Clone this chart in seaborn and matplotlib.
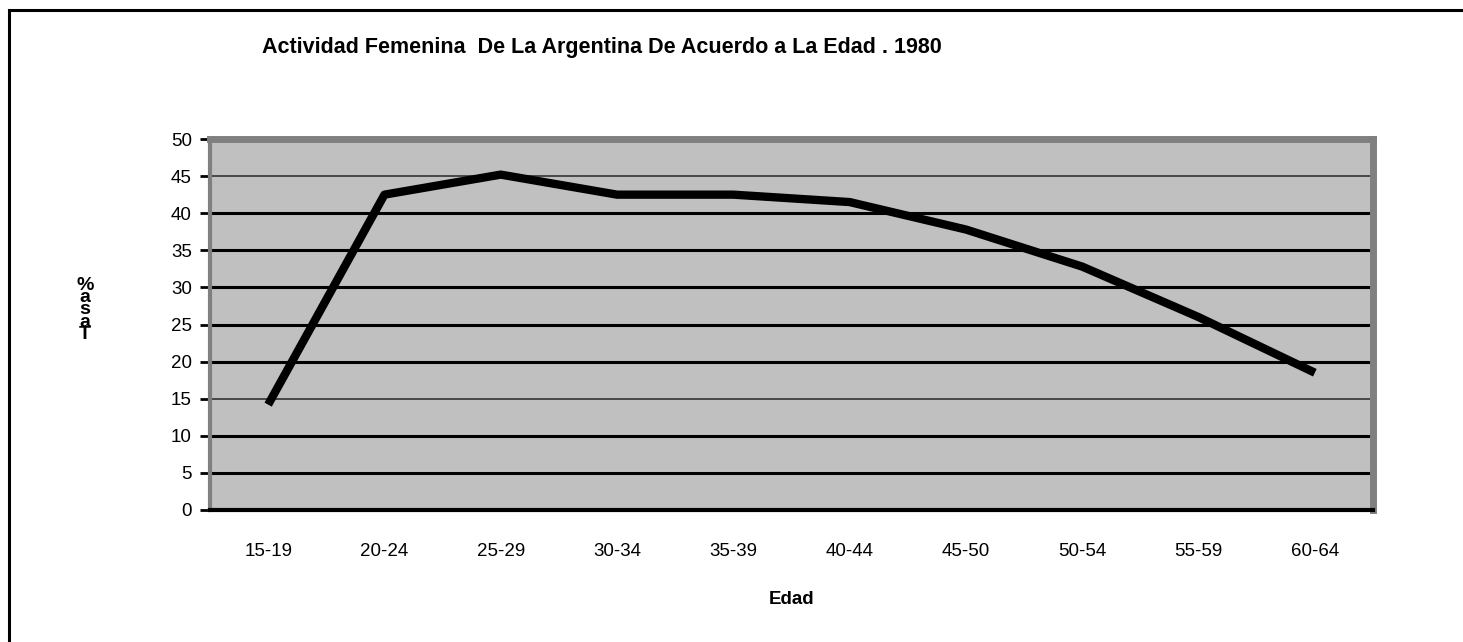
import matplotlib
matplotlib.use("Agg")
import matplotlib.pyplot as plt
import seaborn as sns
import pandas as pd
from matplotlib.patches import Rectangle

# data
edades = ["15-19", "20-24", "25-29", "30-34", "35-39",
          "40-44", "45-50", "50-54", "55-59", "60-64"]
tasa = [14.2, 42.5, 45.2, 42.5, 42.5, 41.5, 37.8, 32.8, 26.0, 18.5]
y_ticks = [0, 5, 10, 15, 20, 25, 30, 35, 40, 45, 50]

titulo = "Actividad Femenina  De La Argentina De Acuerdo a La Edad . 1980"

sns.set_style("white")
plt.rcParams['font.family'] = ['Liberation Sans', 'DejaVu Sans']
plt.rcParams.update({"text.color": "black", "axes.labelcolor": "black",
                     "xtick.color": "black", "ytick.color": "black"})

df = pd.DataFrame({"Edad": edades, "Tasa": tasa})

fig = plt.figure(figsize=(14.63, 6.42), dpi=100)
ax = fig.add_axes([210 / 1463, 1 - 510 / 642, 1163 / 1463, 371 / 642])
ax.set_facecolor("#C0C0C0")

# frame around the whole figure (only top and left edges fall inside)
top = 1 - 10 / 642
fig.patches.append(Rectangle((9 / 1463, -0.05), 1.1, top + 0.05,
                             transform=fig.transFigure, fill=False,
                             edgecolor="black", linewidth=2.2, zorder=0))

sns.lineplot(data=df, x="Edad", y="Tasa", ax=ax, color="black",
             linewidth=6, sort=False, solid_capstyle="butt", zorder=3)

ax.set_xlim(-0.5, len(edades) - 0.5)
ax.set_ylim(0, 50)
ax.set_yticks(y_ticks)
ax.set_xticks(range(len(edades)))
ax.set_xticklabels(edades)
ax.set_xticks([i - 0.5 for i in range(len(edades) + 1)], minor=True)

ax.tick_params(axis="x", which="major", length=0, pad=24, labelsize=13.5)
ax.tick_params(axis="x", which="minor", length=7, width=2, direction="out",
               color="black")
ax.tick_params(axis="y", length=7, width=2, direction="out", pad=6,
               labelsize=13.5, left=True, color="black")

# horizontal gridlines, two drawn thin as in the original
ax.yaxis.grid(True)
for val, gl in zip(y_ticks, ax.get_ygridlines()):
    if val in (15, 45):
        gl.set_color("#333333")
        gl.set_linewidth(1.2)
    else:
        gl.set_color("black")
        gl.set_linewidth(2.2)
ax.set_axisbelow(True)

for side in ["top", "right"]:
    ax.spines[side].set_visible(True)
    ax.spines[side].set_color("#808080")
    ax.spines[side].set_linewidth(5)
ax.spines["left"].set_color("#808080")
ax.spines["left"].set_linewidth(3)
ax.spines["bottom"].set_color("black")
ax.spines["bottom"].set_linewidth(3)

ax.set_xlabel("Edad", fontsize=13.5, fontweight="bold", labelpad=22)
ax.set_ylabel("")

fig.text(262 / 1463, 1 - 48 / 642, titulo, fontsize=15.5, fontweight="bold",
         ha="left", va="center")
fig.text(85 / 1463, 1 - 310 / 642, "%\na\ns\na\nT", fontsize=14,
         fontweight="bold", ha="center", va="center", linespacing=0.62)

fig.savefig("out.png", dpi=100)
